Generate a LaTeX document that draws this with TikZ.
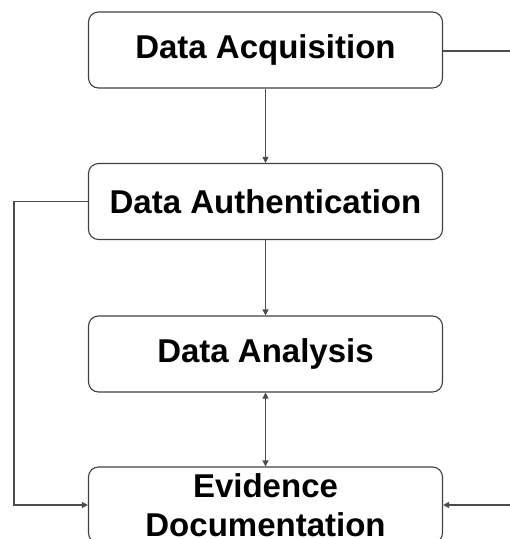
\documentclass[tikz,border=0pt]{standalone}
\usepackage{fontspec}
\setmainfont{Liberation Sans}
\usetikzlibrary{arrows.meta}
\begin{document}
\begin{tikzpicture}[x=1pt,y=-1pt,
  stage/.style={draw=black!75, line width=1.1pt, rounded corners=10pt,
    minimum width=354pt, minimum height=76pt, inner sep=0pt,
    align=center, font=\fontsize{33}{39}\selectfont\bfseries},
  link/.style={draw=black!70, line width=1.1pt},
  arr/.style={link, -{Triangle[length=6pt,width=6pt]}},
  biarr/.style={link, {Triangle[length=6pt,width=6pt]}-{Triangle[length=6pt,width=6pt]}}]
  \useasboundingbox (0,0) rectangle (510,539);
  \clip (0,0) rectangle (510,539);
  \node[stage] (acq)  at (265.5,50)  {Data Acquisition};
  \node[stage] (auth) at (265.5,201.5) {Data Authentication};
  \node[stage] (ana)  at (265.5,354) {Data Analysis};
  \node[stage] (doc)  at (265.5,505) {Evidence\\Documentation};
  \coordinate (rtop) at (511,51);
  \coordinate (rbot) at (511,505);
  \coordinate (lcorner1) at (14,201.5);
  \coordinate (lcorner2) at (14,505);
  \draw[arr] (acq) -- (auth);
  \draw[arr] (auth) -- (ana);
  \draw[biarr] (ana) -- (doc);
  \draw[link] (acq.east |- rtop) -- (rtop);
  \draw[arr] (auth.west) -- (lcorner1) -- (lcorner2) -- (doc.west);
  \draw[arr] (rbot) -- (doc.east);
\end{tikzpicture}
\end{document}
